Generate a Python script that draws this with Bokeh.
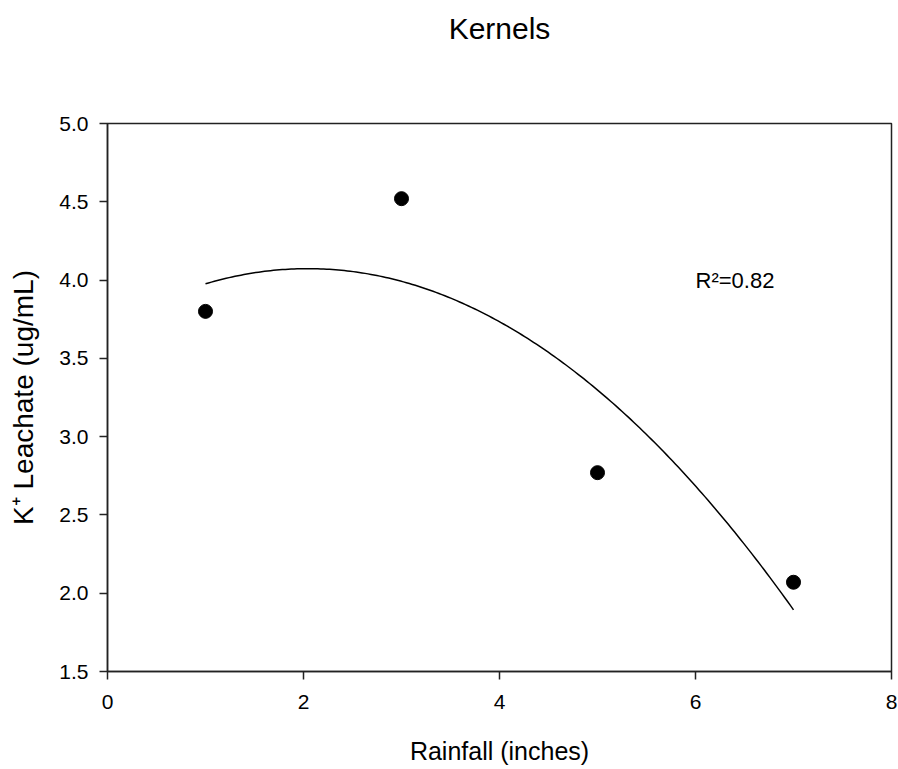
import numpy as np
from bokeh.plotting import figure
from bokeh.models import Range1d, FixedTicker, Label, NumeralTickFormatter, Title
from bokeh.embed import file_html
from bokeh.resources import INLINE

# Data
rainfall = [1, 3, 5, 7]
leachate = [3.80, 4.52, 2.77, 2.07]
x_ticks = [0, 2, 4, 6, 8]
y_ticks = [1.5, 2.0, 2.5, 3.0, 3.5, 4.0, 4.5, 5.0]
r2_text = "R\u00b2=0.82"
title_text = "Kernels"
x_label = "Rainfall (inches)"
y_label = "K\u207a Leachate (ug/mL)"

# quadratic regression of the data
coef = np.polyfit(rainfall, leachate, 2)
fit_x = np.linspace(min(rainfall), max(rainfall), 200)
fit_y = np.polyval(coef, fit_x)

FONT = "Liberation Sans"

p = figure(width=898, height=769, output_backend="svg", toolbar_location=None,
           x_range=Range1d(0, 8), y_range=Range1d(1.5, 5.0),
           min_border_left=107, min_border_right=7, min_border_top=123,
           min_border_bottom=98, title=title_text)

p.title.text_font = FONT
p.title.text_font_size = "30px"
p.title.text_font_style = "normal"
p.title.align = "center"
p.title.vertical_align = "top"
p.title.text_color = "black"
p.title.standoff = 0

# blank spacer between the title and the plot frame
p.add_layout(Title(text=" ", text_font_size="1px", standoff=74), "above")

p.background_fill_color = "white"
p.border_fill_color = "white"
p.outline_line_color = "#222222"
p.outline_line_width = 1.5
p.xgrid.visible = False
p.ygrid.visible = False

for ax in (p.xaxis[0], p.yaxis[0]):
    ax.axis_line_color = "#222222"
    ax.axis_line_width = 1.5
    ax.major_tick_line_color = "#222222"
    ax.major_tick_line_width = 1.5
    ax.major_tick_out = 8
    ax.major_tick_in = 0
    ax.minor_tick_line_color = None
    ax.major_label_text_font = FONT
    ax.major_label_text_font_size = "21px"
    ax.major_label_text_color = "black"
    ax.axis_label_text_font = FONT
    ax.axis_label_text_font_style = "normal"
    ax.axis_label_text_color = "black"

p.xaxis[0].ticker = FixedTicker(ticks=x_ticks)
p.yaxis[0].ticker = FixedTicker(ticks=y_ticks)
p.yaxis[0].formatter = NumeralTickFormatter(format="0.0")
p.xaxis[0].axis_label = x_label
p.yaxis[0].axis_label = y_label
p.xaxis[0].axis_label_text_font_size = "25px"
p.yaxis[0].axis_label_text_font_size = "28px"
p.xaxis[0].major_label_standoff = 15
p.yaxis[0].major_label_standoff = 11
p.xaxis[0].axis_label_standoff = 25
p.yaxis[0].axis_label_standoff = 17

p.line(fit_x, fit_y, line_color="black", line_width=1.5)
p.scatter(rainfall, leachate, size=14, fill_color="black", line_color="black")

p.add_layout(Label(x=6.0, y=4.0, text=r2_text, text_font=FONT,
                   text_font_size="22px", text_color="black",
                   text_baseline="alphabetic", text_align="left"))

open("out.html", "w").write(file_html(p, INLINE))
